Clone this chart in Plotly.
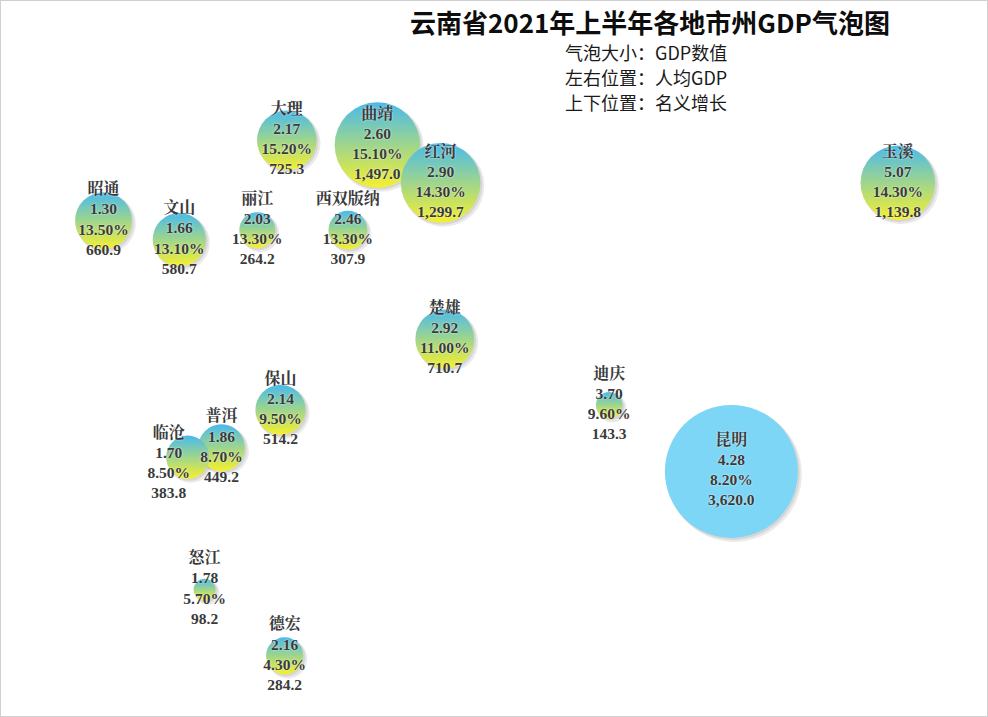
import numpy as np
import plotly.graph_objects as go

# ---- data ----
cities = ["昆明", "曲靖", "玉溪", "保山", "昭通", "丽江", "普洱", "临沧",
          "楚雄", "红河", "文山", "西双版纳", "大理", "德宏", "怒江", "迪庆"]
gdp_per_capita = [4.28, 2.60, 5.07, 2.14, 1.30, 2.03, 1.86, 1.70,
                  2.92, 2.90, 1.66, 2.46, 2.17, 2.16, 1.78, 3.70]   # 人均GDP (万元)
growth = [8.20, 15.10, 14.30, 9.50, 13.50, 13.30, 8.70, 8.50,
          11.00, 14.30, 13.10, 13.30, 15.20, 4.30, 5.70, 9.60]      # 名义增长 (%)
gdp = [3620.0, 1497.0, 1139.8, 514.2, 660.9, 264.2, 449.2, 383.8,
       710.7, 1299.7, 580.7, 307.9, 725.3, 284.2, 98.2, 143.3]      # GDP (亿元)

title_text = "云南省2021年上半年各地市州GDP气泡图"
legend_lines = ["气泡大小：GDP数值", "左右位置：人均GDP", "上下位置：名义增长"]

# ---- layout constants ----
W, H = 988, 717
x_range = [0.809, 5.498]
y_range = [3.007, 18.166]
max_d = 133.0
label_shift_px = {"临沧": (-19, 7)}   # manual label nudge (pixels: right, down)

x = np.array(gdp_per_capita)
y = np.array(growth)
g = np.array(gdp)
diam = max_d * np.sqrt(g / g.max())

dxpp = (x_range[1] - x_range[0]) / W
dypp = (y_range[1] - y_range[0]) / H

labels = [
    f"<b><span style='font-size:16px'>{c}</span></b><br><b>{a:.2f}</b><br><b>{b:.2f}%</b><br><b>{v:,.1f}</b>"
    for c, a, b, v in zip(cities, gdp_per_capita, growth, gdp)
]
shifts = np.array([label_shift_px.get(c, (0, 0)) for c in cities], dtype=float)
label_x = x + shifts[:, 0] * dxpp
label_y = y - shifts[:, 1] * dypp

grad_type = ["none" if c == "昆明" else "vertical" for c in cities]
top_color = ["rgb(125,214,245)" if c == "昆明" else "rgb(72,186,236)" for c in cities]

fig = go.Figure()

# soft drop shadow
fig.add_trace(go.Scatter(
    x=x + 3 * dxpp, y=y - 3 * dypp, mode="markers",
    marker=dict(size=diam + 2, sizemode="diameter", color="rgba(0,0,0,0.12)",
                line=dict(width=0)),
    hoverinfo="skip", showlegend=False,
))
fig.add_trace(go.Scatter(
    x=x + 1.5 * dxpp, y=y - 1.5 * dypp, mode="markers",
    marker=dict(size=diam + 1, sizemode="diameter", color="rgba(0,0,0,0.12)",
                line=dict(width=0)),
    hoverinfo="skip", showlegend=False,
))

# bubbles
fig.add_trace(go.Scatter(
    x=x, y=y, mode="markers",
    marker=dict(size=diam, sizemode="diameter", color=top_color, opacity=1,
                line=dict(width=0),
                gradient=dict(type=grad_type, color="rgb(246,240,45)")),
    hoverinfo="skip", showlegend=False,
))

# labels
fig.add_trace(go.Scatter(
    x=label_x, y=label_y, mode="text",
    text=labels, textposition="middle center",
    textfont=dict(family="Liberation Serif, 'Noto Serif CJK SC', 'Noto Sans CJK SC'",
                  size=15.5, color="#3a3a3a",
                  shadow="0px 0px 2px rgba(255,255,255,0.9)"),
    hoverinfo="skip", showlegend=False,
))

annotations = [dict(
    text=f"<b>{title_text}</b>", x=649.5 / W, y=1 - 22 / H,
    xref="paper", yref="paper", xanchor="center", yanchor="middle",
    showarrow=False, font=dict(family="'Noto Sans CJK SC'", size=26, color="#0d0d0d"),
)]
for i, line in enumerate(legend_lines):
    annotations.append(dict(
        text=line, x=563 / W, y=1 - (52 + 25 * i) / H,
        xref="paper", yref="paper", xanchor="left", yanchor="middle",
        showarrow=False, font=dict(family="'Noto Sans CJK SC'", size=18, color="#1a1a1a"),
    ))

fig.update_layout(
    width=W, height=H,
    margin=dict(l=0, r=0, t=0, b=0),
    paper_bgcolor="white", plot_bgcolor="white",
    xaxis=dict(range=x_range, visible=False, fixedrange=True),
    yaxis=dict(range=y_range, visible=False, fixedrange=True),
    annotations=annotations,
    shapes=[dict(type="rect", xref="paper", yref="paper", x0=0, y0=0, x1=1, y1=1,
                 line=dict(color="#d0d0d0", width=2), fillcolor="rgba(0,0,0,0)")],
)

fig.write_html("out.html")
